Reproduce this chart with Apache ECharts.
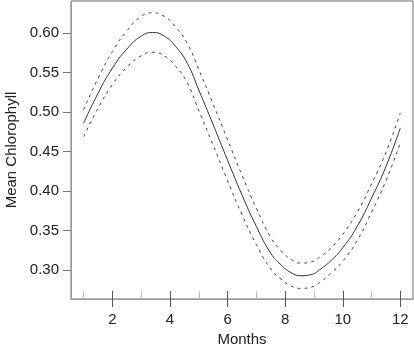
<!DOCTYPE html>
<html>
<head>
<meta charset="utf-8">
<script src="https://cdn.jsdelivr.net/npm/echarts@6/dist/echarts.min.js"></script>
<style>
  html, body { margin: 0; padding: 0; background: #fff; }
  #chart { width: 414px; height: 359px; }
</style>
</head>
<body>
<div id="chart"></div>
<script>
// sample months (peak near 3.4, trough near 8.55)
const months = [1, 1.5, 2, 2.5, 3, 3.4, 3.8, 4.2, 4.6, 5, 5.5, 6, 6.5, 7, 7.5, 7.85, 8.2, 8.55, 8.9, 9.25, 9.6, 10, 10.5, 11, 11.5, 12];
const meanChl = [0.486, 0.524, 0.556, 0.580, 0.5965, 0.601, 0.5965, 0.583, 0.562, 0.528, 0.484, 0.439, 0.395, 0.355, 0.321, 0.3065, 0.2965, 0.2925, 0.294, 0.3015, 0.312, 0.328, 0.355, 0.391, 0.431, 0.480];
const upperChl = [0.503, 0.543, 0.577, 0.603, 0.6215, 0.626, 0.6215, 0.608, 0.587, 0.554, 0.510, 0.465, 0.420, 0.378, 0.341, 0.3245, 0.3135, 0.3085, 0.310, 0.3175, 0.328, 0.345, 0.373, 0.409, 0.449, 0.499];
const lowerChl = [0.469, 0.505, 0.535, 0.557, 0.5715, 0.576, 0.5715, 0.558, 0.537, 0.502, 0.458, 0.413, 0.370, 0.332, 0.301, 0.2885, 0.2795, 0.2765, 0.278, 0.2855, 0.296, 0.311, 0.337, 0.373, 0.413, 0.461];

const yTicks = [0.30, 0.35, 0.40, 0.45, 0.50, 0.55, 0.60];
const xMinorTicks = [1, 3, 5, 7, 9, 11];
const xMajorTicks = [2, 4, 6, 8, 10, 12];

const font = 'Liberation Sans, Arial, sans-serif';
const pairs = (ys) => months.map((m, i) => [m, ys[i]]);

const chart = echarts.init(document.getElementById('chart'), null, { renderer: 'canvas' });

const xBase = {
  type: 'value', min: 0.56, max: 12.44, position: 'bottom',
  splitLine: { show: false }
};

chart.setOption({
  animation: false,
  grid: {
    left: 71, right: 1, top: 1, bottom: 60,
    outerBoundsMode: 'none', containLabel: false,
    show: true, borderColor: '#6a6a6a', borderWidth: 1
  },
  xAxis: [
    Object.assign({}, xBase, {
      name: 'Months', nameLocation: 'middle', nameGap: 33,
      nameTextStyle: { fontFamily: font, fontSize: 15, color: '#222' },
      axisLine: { onZero: false, lineStyle: { color: '#9a9a9a' } },
      axisTick: { inside: true, length: 8, customValues: xMinorTicks, lineStyle: { color: '#bbbbbb' } },
      axisLabel: {
        customValues: xMajorTicks, margin: 13,
        fontFamily: font, fontSize: 15, color: '#222'
      }
    }),
    Object.assign({}, xBase, {
      axisLine: { show: false },
      axisTick: { inside: false, length: 8, customValues: xMajorTicks, lineStyle: { color: '#555' } },
      axisLabel: { show: false }
    }),
    Object.assign({}, xBase, {
      axisLine: { show: false },
      axisTick: { inside: true, length: 8, customValues: xMajorTicks, lineStyle: { color: '#555' } },
      axisLabel: { show: false }
    })
  ],
  yAxis: {
    type: 'value', min: 0.263, max: 0.641,
    name: 'Mean Chlorophyll', nameLocation: 'middle', nameGap: 52,
    nameTextStyle: { fontFamily: font, fontSize: 15, color: '#222' },
    splitLine: { show: false },
    axisLine: { show: true, onZero: false, lineStyle: { color: '#9a9a9a' } },
    axisTick: { length: 8, customValues: yTicks, lineStyle: { color: '#777' } },
    axisLabel: {
      customValues: yTicks, margin: 12,
      formatter: (v) => v.toFixed(2),
      fontFamily: font, fontSize: 15, color: '#222'
    }
  },
  series: [
    {
      type: 'line', data: pairs(meanChl), smooth: 0.5, symbol: 'none',
      lineStyle: { color: '#333', width: 1 }
    },
    {
      type: 'line', data: pairs(upperChl), smooth: 0.5, symbol: 'none',
      lineStyle: { color: '#444', width: 1, type: [3, 4] }
    },
    {
      type: 'line', data: pairs(lowerChl), smooth: 0.5, symbol: 'none',
      lineStyle: { color: '#444', width: 1, type: [3, 4] }
    }
  ]
});
</script>
</body>
</html>
